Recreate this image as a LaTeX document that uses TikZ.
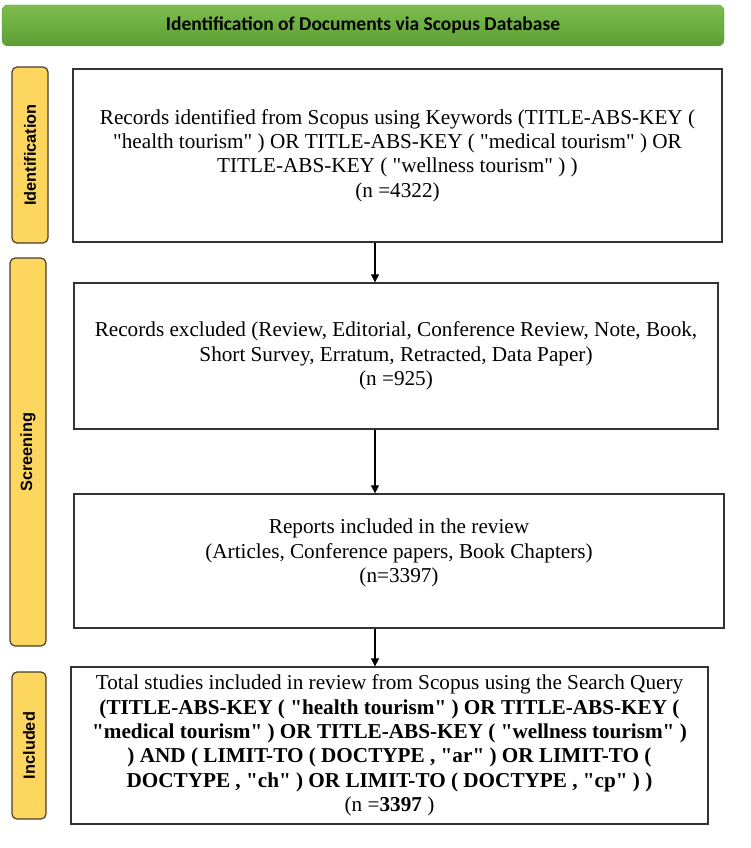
\documentclass[tikz,border=0pt]{standalone}
\usepackage{fontspec}
\setmainfont{Liberation Serif}[Ligatures=TeXOff]
\newfontfamily\calib{Carlito}
\newfontfamily\arialf{Liberation Sans}
\usetikzlibrary{arrows.meta}
\definecolor{greenTop}{HTML}{7DBE4E}
\definecolor{greenBot}{HTML}{5C9E34}
\definecolor{stageFill}{HTML}{FCD65F}
\definecolor{stageLine}{HTML}{4A3F2A}
\definecolor{boxLine}{HTML}{333333}
\tikzset{
  stagebox/.style={draw=stageLine, line width=1.2pt, fill=stageFill, rounded corners=5pt, inner sep=0pt},
  stagetext/.style={rotate=90, font=\arialf\bfseries\fontsize{16.3}{18}\selectfont, text=black},
  flowbox/.style={draw=boxLine, line width=1.3pt, fill=white, align=center, inner sep=0pt,
    font=\fontsize{21.2}{24.4}\selectfont},
  flowtext/.style={align=center, inner sep=0pt, font=\fontsize{21.2}{24.4}\selectfont},
  flowarrow/.style={-{Triangle[length=8pt,width=8pt]}, line width=1.2pt, draw=black},
}
\begin{document}
\begin{tikzpicture}[x=1pt,y=-1pt]
\useasboundingbox (0,0) rectangle (750,848);
% header bar
\node[top color=greenTop, bottom color=greenBot, draw=greenBot, rounded corners=6pt,
  minimum width=722pt, minimum height=41pt, inner sep=0pt,
  font=\calib\bfseries\fontsize{19.5}{22}\selectfont] (hdr) at (363,25.5)
  {Identification of Documents via Scopus Database};
% stage labels
\node[stagebox, minimum width=36pt, minimum height=176pt] (sid) at (30,155) {};
\node[stagetext] (tid) at (sid.center) {Identification};
\node[stagebox, minimum width=36pt, minimum height=388pt] (sscr) at (28,452) {};
\node[stagetext] (tscr) at (sscr.center) {Screening};
\node[stagebox, minimum width=34pt, minimum height=147pt] (sinc) at (29,745.5) {};
\node[stagetext] (tinc) at (sinc.center) {Included};
% flow boxes
\node[flowbox, minimum width=649pt, minimum height=173pt] (b1) at (397.5,155.5)
  {Records identified from Scopus using Keywords (TITLE-ABS-KEY (\\
   "health tourism" ) OR TITLE-ABS-KEY ( "medical tourism" ) OR\\
   TITLE-ABS-KEY ( "wellness tourism" ) )\\
   (n =4322)};
\node[flowbox, minimum width=644pt, minimum height=146pt] (b2) at (396,356)
  {Records excluded (Review, Editorial, Conference Review, Note, Book,\\
   Short Survey, Erratum, Retracted, Data Paper)\\
   (n =925)};
\node[flowbox, minimum width=650pt, minimum height=134pt] (b3) at (399,561) {};
\node[flowtext] (t3) at (399,553)
  {Reports included in the review\\
   (Articles, Conference papers, Book Chapters)\\
   (n=3397)};
\node[flowbox, minimum width=637pt, minimum height=157pt] (b4) at (389.5,745.5)
  {Total studies included in review from Scopus using the Search Query\\
   \textbf{(TITLE-ABS-KEY ( "health tourism" ) OR TITLE-ABS-KEY (}\\
   \textbf{"medical tourism" ) OR TITLE-ABS-KEY ( "wellness tourism" )}\\
   \textbf{) AND ( LIMIT-TO ( DOCTYPE , "ar" ) OR LIMIT-TO (}\\
   \textbf{DOCTYPE , "ch" ) OR LIMIT-TO ( DOCTYPE , "cp" ) )}\\
   (n =\textbf{3397} )};
% arrows
\draw[flowarrow] (b1.south -| 375,0) -- (b2.north -| 375,0);
\draw[flowarrow] (b2.south -| 375,0) -- (b3.north -| 375,0);
\draw[flowarrow] (b3.south -| 375,0) -- (b4.north -| 375,0);
\end{tikzpicture}
\end{document}
